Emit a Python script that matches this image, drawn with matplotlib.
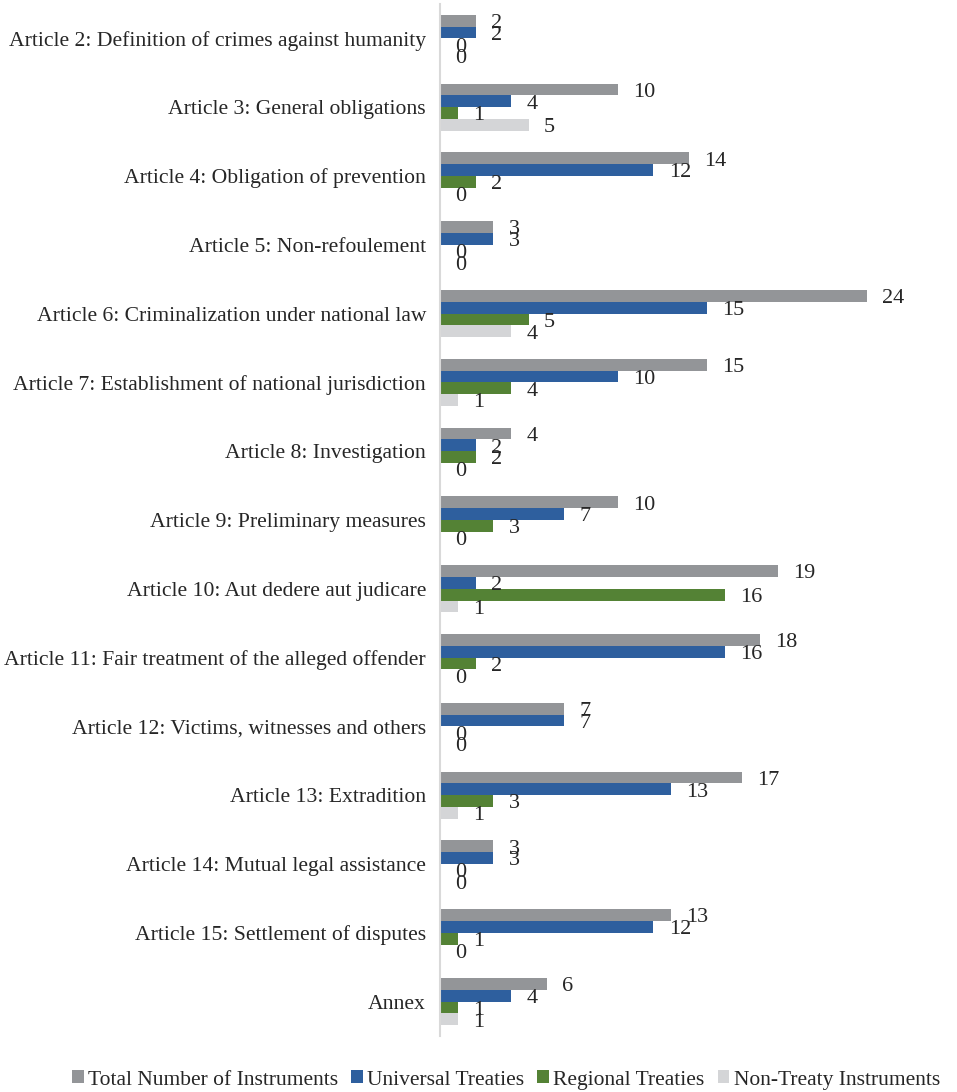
import matplotlib
matplotlib.use("Agg")
import matplotlib.pyplot as plt
import numpy as np

categories = [
    "Article 2: Definition of crimes against humanity",
    "Article 3: General obligations",
    "Article 4: Obligation of prevention",
    "Article 5: Non-refoulement",
    "Article 6: Criminalization under national law",
    "Article 7: Establishment of national jurisdiction",
    "Article 8: Investigation",
    "Article 9: Preliminary measures",
    "Article 10: Aut dedere aut judicare",
    "Article 11: Fair treatment of the alleged offender",
    "Article 12: Victims, witnesses and others",
    "Article 13: Extradition",
    "Article 14: Mutual legal assistance",
    "Article 15: Settlement of disputes",
    "Annex",
]
total = [2, 10, 14, 3, 24, 15, 4, 10, 19, 18, 7, 17, 3, 13, 6]
universal = [2, 4, 12, 3, 15, 10, 2, 7, 2, 16, 7, 13, 3, 12, 4]
regional = [0, 1, 2, 0, 5, 4, 2, 3, 16, 2, 0, 3, 0, 1, 1]
non_treaty = [0, 5, 0, 0, 4, 1, 0, 0, 1, 0, 0, 1, 0, 0, 1]
series_names = ["Total Number of Instruments", "Universal Treaties",
                "Regional Treaties", "Non-Treaty Instruments"]
colors = ["#939598", "#2E5F9E", "#548235", "#D4D5D7"]

plt.rcParams['font.family'] = ['Liberation Serif', 'DejaVu Serif']

fig = plt.figure(figsize=(9.57, 10.92), dpi=100)
ax = fig.add_axes([440/957, 1 - 1036/1092, 505/957, 1032/1092])

y = np.arange(len(categories))
h = 0.172
data = [total, universal, regional, non_treaty]
for k, (vals, name, c) in enumerate(zip(data, series_names, colors)):
    pos = y + (k - 1.5) * h
    ax.barh(pos, vals, height=h, color=c, label=name)
    for p, v in zip(pos, vals):
        ax.annotate(str(v), (v, p), xytext=(11, -2), textcoords="offset points",
                    ha="left", va="center", fontsize=16, color="#262626")

ax.set_xlim(0, 28.4)
ax.set_ylim(len(categories) - 0.5, -0.5)
ax.set_yticks(y)
ax.set_yticklabels(categories, fontsize=15.6, color="#262626")
ax.tick_params(axis="y", length=0, pad=10)
ax.set_xticks([])
for s in ["top", "right", "bottom"]:
    ax.spines[s].set_visible(False)
ax.spines["left"].set_color("#D9D9D9")
ax.spines["left"].set_linewidth(1.5)

fig.legend(loc="center", bbox_to_anchor=(506/957, 1 - 1080/1092), ncol=4,
           frameon=False, fontsize=15.5, handlelength=0.55, handleheight=0.55,
           handletextpad=0.2, columnspacing=0.6, labelcolor="#262626")

fig.savefig("out.png", dpi=100)
